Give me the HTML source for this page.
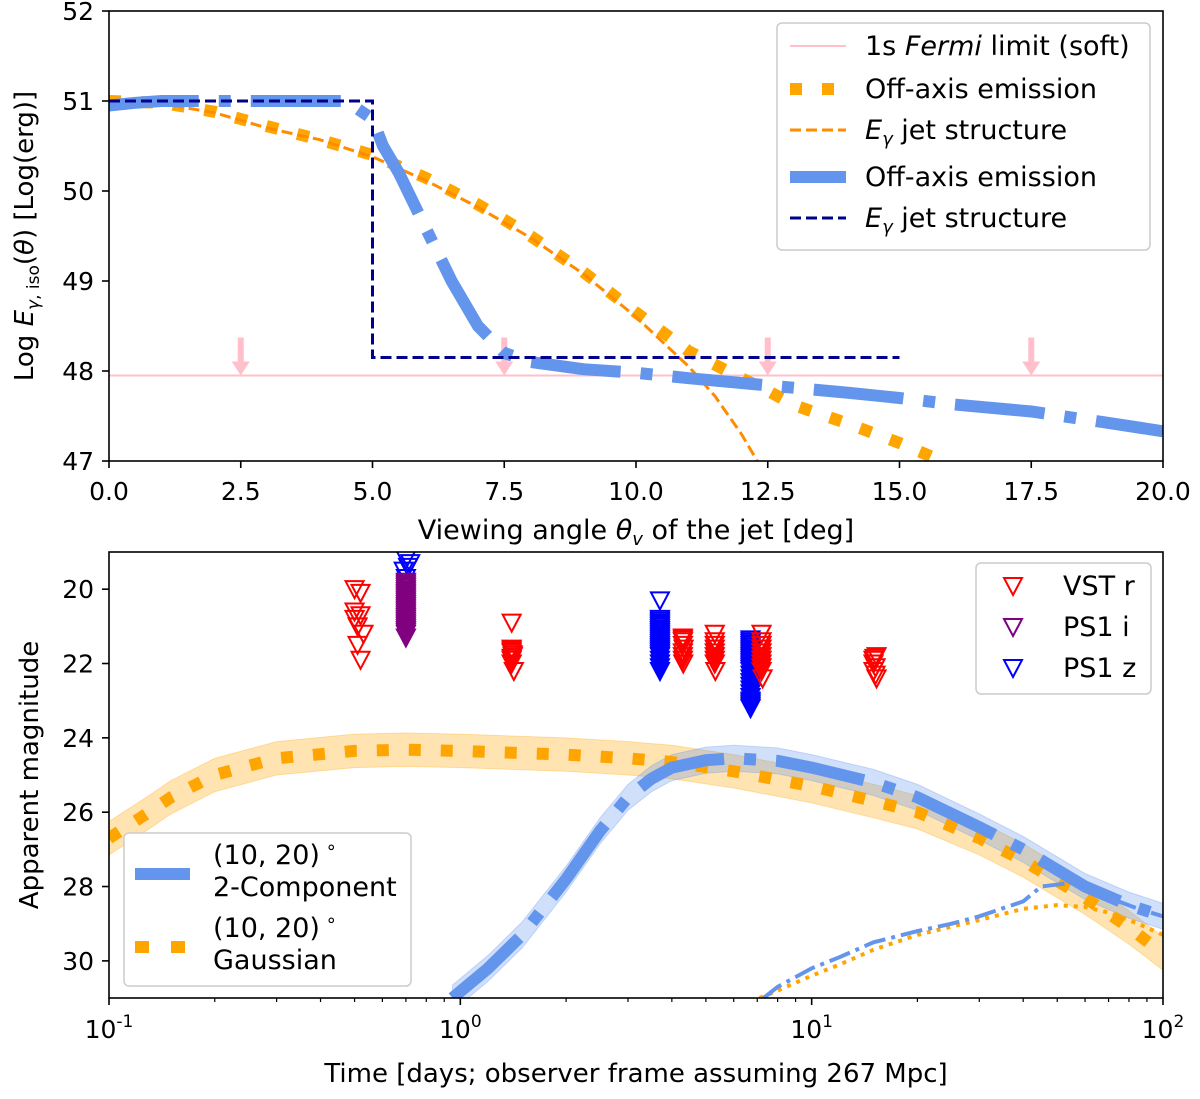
<!DOCTYPE html>
<html><head><meta charset="utf-8"><style>
body{margin:0;background:#fff}
svg{display:block;font-family:"DejaVu Sans","Liberation Sans",sans-serif}
</style></head><body>
<svg id="fig" width="1200" height="1099" viewBox="0 0 1200 1099" xmlns="http://www.w3.org/2000/svg">
<defs>
<clipPath id="c1"><rect x="109" y="11" width="1054" height="450"/></clipPath>
<clipPath id="c2"><rect x="109" y="552" width="1054" height="446"/></clipPath>
</defs>
<g id="topPanel"></g>
<g id="botPanel"></g>
</svg>
<script>
// ---- Top panel data ----
const angleTicks=[0,2.5,5,7.5,10,12.5,15,17.5,20];
const angleTickLabels=["0.0","2.5","5.0","7.5","10.0","12.5","15.0","17.5","20.0"];
const logETicks=[47,48,49,50,51,52];
const fermiLimit=47.95;
const arrowAngles=[2.5,7.5,12.5,17.5];
const gaussOffTheta=[0,1,2,2.5,3,4,5,6,7,7.5,8,9,10,11,12,12.5,13,14,15,15.8];
const gaussOffE=[51,50.98,50.88,50.8,50.72,50.57,50.4,50.15,49.85,49.68,49.5,49.1,48.65,48.22,47.92,47.78,47.62,47.42,47.2,47.0];
const gaussJetTheta=[0,1,2,3,4,5,6,7,8,9,10,11,11.5,12,12.3];
const gaussJetE=[51,50.97,50.87,50.7,50.57,50.38,50.12,49.82,49.48,49.08,48.6,48.05,47.72,47.3,47.0];
const tophatOffTheta=[0,0.5,1,2,3,4,4.5,5,5.2,5.5,6,6.5,7,7.5,8,9,10,11,12.5,14,15,16,17.5,19,20];
const tophatOffE=[50.95,50.98,51,51,51,51,51,50.8,50.5,50.2,49.6,49.0,48.5,48.2,48.1,48.02,47.98,47.92,47.84,47.76,47.7,47.63,47.55,47.42,47.33];
const tophatJetTheta=[0,5,5,15];
const tophatJetE=[51,51,48.15,48.15];
// ---- Bottom panel data ----
const timeTicks=[0.1,1,10,100];
const timeTickExp=["-1","0","1","2"];
const magTicks=[20,22,24,26,28,30];
const twoCompT=[0.95,1.2,1.5,2,2.5,3,3.5,4,5,6,8,10,15,20,30,40,60,80,100];
const twoCompM=[31,30.2,29.3,27.8,26.5,25.6,25.1,24.8,24.6,24.55,24.62,24.8,25.2,25.6,26.4,27.0,28.0,28.5,28.8];
const gaussT=[0.1,0.13,0.15,0.2,0.3,0.5,0.7,1,2,3,4,6,10,15,20,30,40,60,80,100];
const gaussM=[26.7,26.0,25.6,25.0,24.55,24.35,24.32,24.35,24.45,24.55,24.65,24.9,25.3,25.7,26.0,26.7,27.3,28.3,29.1,29.8];
const thinCompT=[7.3,8,10,12,15,20,25,30,40,45,55,70,85,100];
const thinCompM=[31,30.7,30.2,29.9,29.5,29.2,29.0,28.8,28.4,28.0,27.9,28.3,28.6,28.8];
const thinGaussT=[7.1,8,10,12,15,20,30,40,50,60,70,85,100];
const thinGaussM=[31,30.8,30.4,30.1,29.7,29.3,28.9,28.6,28.5,28.55,28.7,29.0,29.3];
const vstT=[0.5,0.5,0.52,0.5,0.52,0.51,0.53,0.51,0.52,
1.4,1.4,1.4,1.41,1.4,1.42,1.4,1.41,1.4,1.4,
4.3,4.3,4.3,4.32,4.3,4.3,4.3,4.31,4.3,
5.3,5.3,5.3,5.3,5.3,5.32,5.3,5.3,5.3,
7.2,7.2,7.2,7.2,7.2,7.2,7.25,7.2,7.2,7.2,7.2,
15,15,15.3,15,15.2,15.3,15.1,15.2];
const vstM=[20.0,20.6,20.1,20.8,20.7,21.0,21.2,21.5,21.9,
20.9,21.6,21.7,21.8,21.9,22.2,21.65,21.75,21.85,22.0,
21.3,21.4,21.5,21.6,21.7,21.8,21.9,22.0,21.35,
21.2,21.4,21.6,21.8,22.0,22.2,21.5,21.7,21.9,
21.2,21.4,21.6,21.8,22.0,22.2,22.4,21.5,21.7,21.9,22.1,
21.9,22.0,21.8,22.2,22.3,22.4,21.85,22.1];
const ps1iT=[0.7,0.7,0.7,0.7,0.7,0.7,0.7,0.7,0.7,0.7,0.7,0.7,0.7,0.7,0.7,0.7,0.7,0.7,0.7,0.7,0.7,0.7,0.7,0.7,0.7,0.7,0.7,0.7,0.7,0.7];
const ps1iM=[19.8,19.85,19.9,19.95,20.0,20.05,20.1,20.15,20.2,20.25,20.3,20.35,20.4,20.45,20.5,20.55,20.6,20.65,20.7,20.75,20.8,20.85,20.9,20.95,21.0,21.05,21.1,21.15,21.2,21.3];
const ps1zT=[0.7,0.72,0.69,0.7,0.71,
3.7,3.7,3.7,3.7,3.7,3.7,3.7,3.7,3.7,3.7,3.7,3.7,3.7,3.7,3.7,3.7,3.7,3.7,3.7,3.7,3.7,3.7,3.7,3.7,3.7,3.7,
6.7,6.7,6.7,6.7,6.7,6.7,6.7,6.7,6.7,6.7,6.7,6.7,6.7,6.7,6.7,6.7,6.7,6.7,6.7,6.7,6.7,6.7,6.7,6.7,6.7,6.7,6.7,6.7,6.7,6.7];
const ps1zM=[19.2,19.3,19.5,19.7,19.4,
20.3,20.8,20.85,20.9,20.95,21.0,21.05,21.1,21.15,21.2,21.25,21.3,21.35,21.4,21.45,21.5,21.55,21.6,21.65,21.7,21.75,21.8,21.9,22.0,22.1,22.2,
21.35,21.4,21.45,21.5,21.55,21.6,21.65,21.7,21.75,21.8,21.85,21.9,21.95,22.0,22.05,22.1,22.15,22.2,22.3,22.4,22.5,22.6,22.7,22.8,22.9,23.0,23.05,23.1,23.15,23.2];

const NS='http://www.w3.org/2000/svg';
function mk(parent,tag,attrs,text){const e=document.createElementNS(NS,tag);for(const k in attrs)e.setAttribute(k,attrs[k]);if(text!==undefined)e.textContent=text;parent.appendChild(e);return e;}
const topG=document.getElementById('topPanel'),botG=document.getElementById('botPanel');
const xA=a=>109+a/20*1054;
const yE=v=>11+(52-v)*90;
const xT=t=>109+(Math.log10(t)+1)*351.33;
const yM=m=>552+(m-19)*37.17;
function pathD(xs,ys,fx,fy){return xs.map((v,i)=>(i?'L':'M')+fx(v).toFixed(1)+','+fy(ys[i]).toFixed(1)).join(' ');}
const TF=25, LF=27;

// ---------- TOP ----------
const g1=mk(topG,'g',{'clip-path':'url(#c1)'});


let e;
e=mk(g1,'line',{x1:109,x2:1163,y1:yE(fermiLimit),y2:yE(fermiLimit),stroke:'#ffc0cb','stroke-width':2});


arrowAngles.forEach(a=>{const x=xA(a),y0=yE(fermiLimit)-38,y1=yE(fermiLimit);
 const ar=mk(g1,'path',{d:`M${x-3},${y0} L${x+3},${y0} L${x+3},${y1-14} L${x+9},${y1-14} L${x},${y1} L${x-9},${y1-14} L${x-3},${y1-14}Z`,fill:'#ffc0cb'});
 
 });
e=mk(g1,'path',{d:pathD(gaussOffTheta,gaussOffE,xA,yE),fill:'none',stroke:'#ffa500','stroke-width':12,'stroke-dasharray':'12 20'});


e=mk(g1,'path',{d:pathD(gaussJetTheta,gaussJetE,xA,yE),fill:'none',stroke:'#ff8c00','stroke-width':3,'stroke-dasharray':'11 5'});


e=mk(g1,'path',{d:pathD(tophatOffTheta,tophatOffE,xA,yE),fill:'none',stroke:'#6495ed','stroke-width':12,'stroke-dasharray':'90 20 12 20'});


e=mk(g1,'path',{d:pathD(tophatJetTheta,tophatJetE,xA,yE),fill:'none',stroke:'#00008b','stroke-width':3,'stroke-dasharray':'11 5'});


e=mk(topG,'rect',{x:109,y:11,width:1054,height:450,fill:'none',stroke:'#000','stroke-width':1.6});


angleTicks.forEach((a,i)=>{const x=xA(a);mk(topG,'line',{x1:x,x2:x,y1:461,y2:468,stroke:'#000','stroke-width':1.6});
 const t=mk(topG,'text',{x:x,y:500,'text-anchor':'middle','font-size':TF},angleTickLabels[i]);
 
 });
logETicks.forEach(v=>{const y=yE(v);mk(topG,'line',{x1:102,x2:109,y1:y,y2:y,stroke:'#000','stroke-width':1.6});
 const t=mk(topG,'text',{x:94,y:y+9,'text-anchor':'end','font-size':TF},String(v));
 
 });
e=mk(topG,'text',{x:636,y:539,'text-anchor':'middle','font-size':LF});
e.innerHTML='Viewing angle <tspan font-style="italic">θ</tspan><tspan font-style="italic" font-size="18" dy="6">v</tspan><tspan dy="-6"> of the jet [deg]</tspan>';


e=mk(topG,'text',{x:0,y:0,'text-anchor':'middle','font-size':LF-1,transform:'translate(33,236) rotate(-90)'});
e.innerHTML='Log <tspan font-style="italic">E</tspan><tspan font-size="17" dy="6"><tspan font-style="italic">γ</tspan>, iso</tspan><tspan dy="-6">(</tspan><tspan font-style="italic">θ</tspan>) [Log(erg)]';


const L1=mk(topG,'g',{});


mk(L1,'rect',{x:777,y:23,width:373,height:227,rx:5,fill:'#fff',stroke:'#ccc','stroke-width':1.5});
const le=[['1s <tspan font-style="italic">Fermi</tspan> limit (soft)',{stroke:'#ffc0cb','stroke-width':2}],
['Off-axis emission',{stroke:'#ffa500','stroke-width':12,'stroke-dasharray':'12 20'}],
['<tspan font-style="italic">E</tspan><tspan font-style="italic" font-size="18" dy="6">γ</tspan><tspan dy="-6"> jet structure</tspan>',{stroke:'#ff8c00','stroke-width':3,'stroke-dasharray':'11 5'}],
['Off-axis emission',{stroke:'#6495ed','stroke-width':12}],
['<tspan font-style="italic">E</tspan><tspan font-style="italic" font-size="18" dy="6">γ</tspan><tspan dy="-6"> jet structure</tspan>',{stroke:'#00008b','stroke-width':3,'stroke-dasharray':'11 5'}]];
const legY=[46,89,130,177,218];
le.forEach((r,i)=>{const y=legY[i];const ln=mk(L1,'line',Object.assign({x1:790,x2:846,y1:y,y2:y},r[1]));
 
 
 const t=mk(L1,'text',{x:865,y:y+9,'font-size':LF});t.innerHTML=r[0];
 
 });

// ---------- BOTTOM ----------
const g2=mk(botG,'g',{'clip-path':'url(#c2)'});


function band(ts,ms,w,col,name){const up=ts.map((t,i)=>xT(t).toFixed(1)+','+yM(ms[i]-w).toFixed(1));
 const dn=ts.map((t,i)=>xT(t).toFixed(1)+','+yM(ms[i]+w).toFixed(1)).reverse();
 const p=mk(g2,'polygon',{points:up.concat(dn).join(' '),fill:col,'fill-opacity':0.3,stroke:col,'stroke-opacity':0.3});
 
 }
band(gaussT,gaussM,0.45,'#ffa500','gaussian-band');
band(twoCompT,twoCompM,0.35,'#6495ed','two-component-band');
e=mk(g2,'path',{d:pathD(gaussT,gaussM,xT,yM),fill:'none',stroke:'#ffa500','stroke-width':12,'stroke-dasharray':'12 20'});


e=mk(g2,'path',{d:pathD(twoCompT,twoCompM,xT,yM),fill:'none',stroke:'#6495ed','stroke-width':12,'stroke-dasharray':'90 20 12 20'});


e=mk(g2,'path',{d:pathD(thinGaussT,thinGaussM,xT,yM),fill:'none',stroke:'#ffa500','stroke-width':4,'stroke-dasharray':'4 6'});


e=mk(g2,'path',{d:pathD(thinCompT,thinCompM,xT,yM),fill:'none',stroke:'#6495ed','stroke-width':4,'stroke-dasharray':'22 6 4 6'});


function tri(ts,ms,col,name){ts.forEach((t,i)=>{const x=xT(t),y=yM(ms[i]);
 const p=mk(g2,'path',{d:`M${x-9},${y-8} L${x+9},${y-8} L${x},${y+9}Z`,fill:'none',stroke:col,'stroke-width':2});
 
 });}
tri(ps1zT,ps1zM,'#0000ff','ps1-z-marker');
tri(ps1iT,ps1iM,'#800080','ps1-i-marker');
tri(vstT,vstM,'#ff0000','vst-r-marker');
e=mk(botG,'rect',{x:109,y:552,width:1054,height:446,fill:'none',stroke:'#000','stroke-width':1.6});


timeTicks.forEach((t,i)=>{const x=xT(t);mk(botG,'line',{x1:x,x2:x,y1:998,y2:1005,stroke:'#000','stroke-width':1.6});
 for(let k=2;k<10&&i<3;k++){const xm=xT(t*k);mk(botG,'line',{x1:xm,x2:xm,y1:998,y2:1002,stroke:'#000','stroke-width':1.2});}
 const tx=mk(botG,'text',{x:x,y:1038,'text-anchor':'middle','font-size':TF});
 tx.innerHTML='10<tspan font-size="17" dy="-11">'+timeTickExp[i]+'</tspan>';
 
 });
magTicks.forEach(m=>{const y=yM(m);mk(botG,'line',{x1:102,x2:109,y1:y,y2:y,stroke:'#000','stroke-width':1.6});
 const t=mk(botG,'text',{x:94,y:y+9,'text-anchor':'end','font-size':TF},String(m));
 
 });
e=mk(botG,'text',{x:636,y:1082,'text-anchor':'middle','font-size':LF-1},'Time [days; observer frame assuming 267 Mpc]');


e=mk(botG,'text',{x:0,y:0,'text-anchor':'middle','font-size':LF-1,transform:'translate(38,775) rotate(-90)'},'Apparent magnitude');


const L2=mk(botG,'g',{});


mk(L2,'rect',{x:976,y:563,width:175,height:131,rx:5,fill:'#fff',stroke:'#ccc','stroke-width':1.5});
[['VST r','#ff0000'],['PS1 i','#800080'],['PS1 z','#0000ff']].forEach((r,i)=>{const y=586+i*41,x=1013;
 const p=mk(L2,'path',{d:`M${x-9},${y-8} L${x+9},${y-8} L${x},${y+9}Z`,fill:'none',stroke:r[1],'stroke-width':2});
 
 
 const t=mk(L2,'text',{x:1063,y:y+9,'font-size':LF},r[0]);
 
 });
const L3=mk(botG,'g',{});


mk(L3,'rect',{x:124,y:833,width:287,height:153,rx:5,fill:'#fff',stroke:'#ccc','stroke-width':1.5});
let ln=mk(L3,'line',{x1:135,x2:190,y1:874,y2:874,stroke:'#6495ed','stroke-width':12});


ln=mk(L3,'line',{x1:135,x2:190,y1:947,y2:947,stroke:'#ffa500','stroke-width':12,'stroke-dasharray':'14 22'});


[['(10, 20)<tspan font-size="18" dy="-11"> ∘</tspan>',864],['2-Component',896],['(10, 20)<tspan font-size="18" dy="-11"> ∘</tspan>',937],['Gaussian',969]].forEach(r=>{
 const t=mk(L3,'text',{x:213,y:r[1],'font-size':LF});t.innerHTML=r[0];
 
 });
</script>
</body></html>
